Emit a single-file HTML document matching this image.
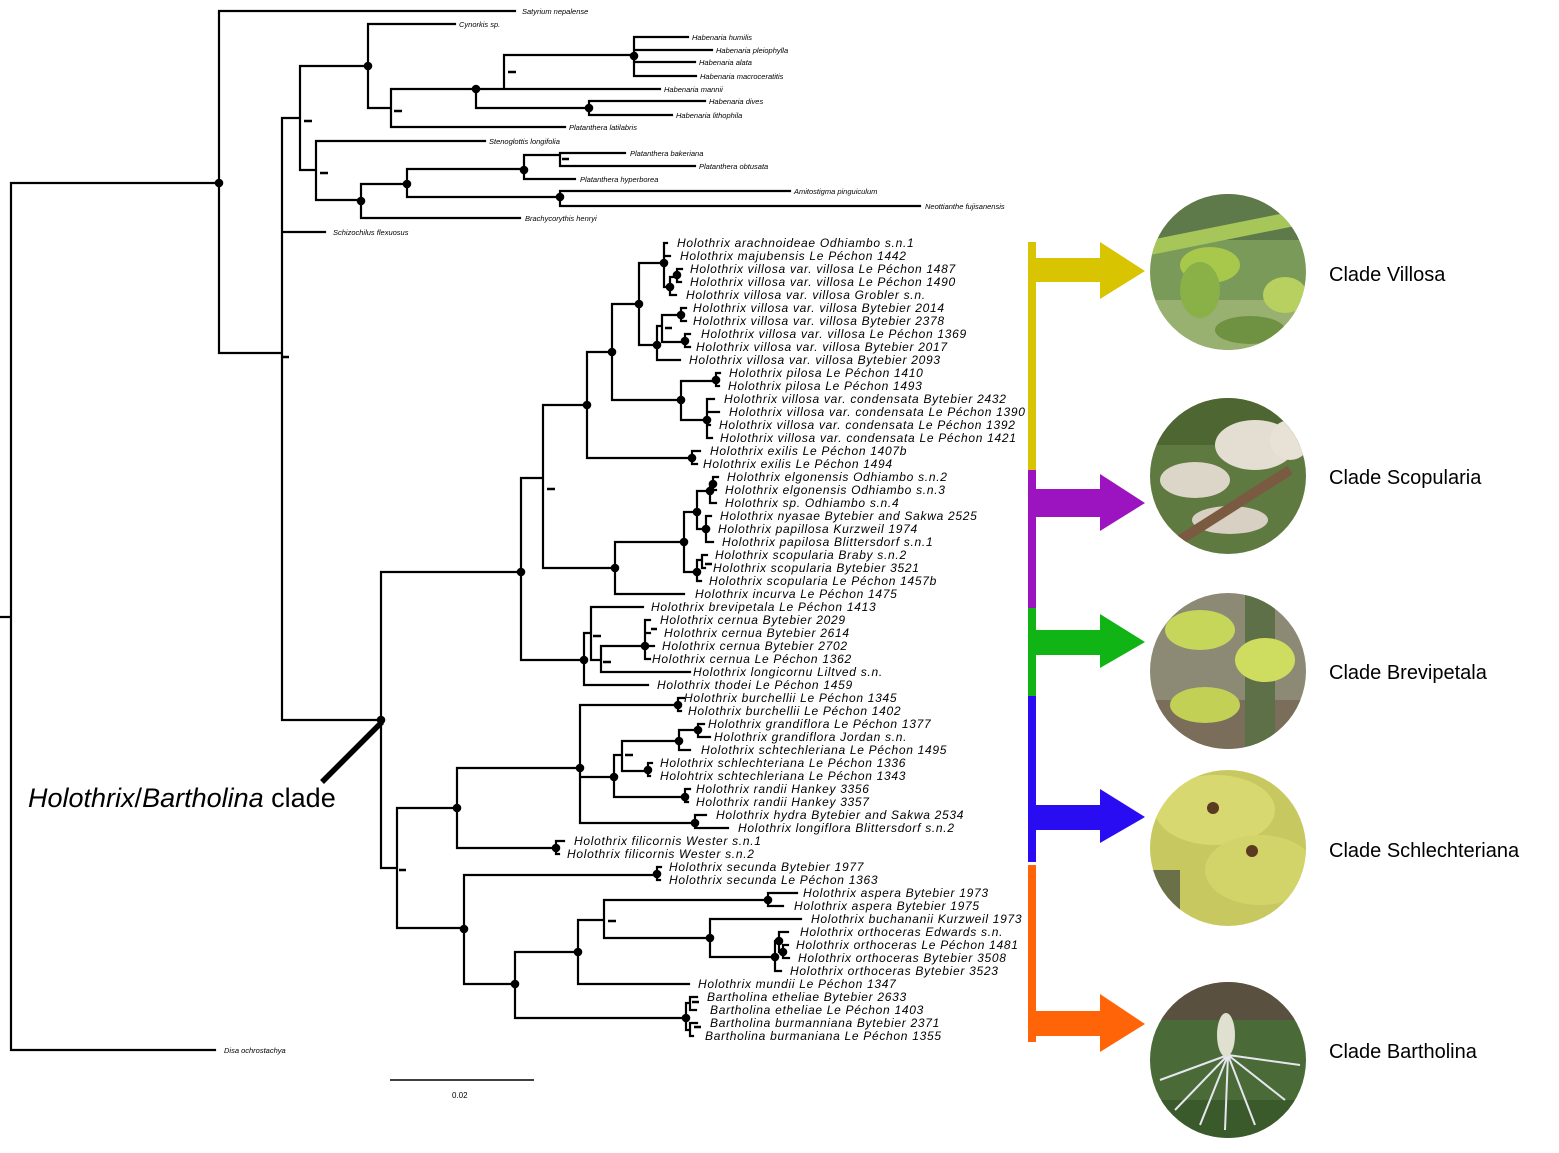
<!DOCTYPE html>
<html><head><meta charset="utf-8"><style>
html,body{margin:0;padding:0;background:#fff}
svg{display:block}
.s{font-family:"Liberation Sans",sans-serif;font-style:italic;font-size:7.5px;fill:#000}
.h{font-family:"Liberation Sans",sans-serif;font-style:italic;font-size:12px;letter-spacing:0.7px;fill:#000}
.c{font-family:"Liberation Sans",sans-serif;font-size:20px;fill:#000}
</style></head><body>
<svg width="1559" height="1153" viewBox="0 0 1559 1153" xmlns="http://www.w3.org/2000/svg">
<defs>
<clipPath id="c1"><circle cx="1228" cy="272" r="78"/></clipPath>
<clipPath id="c2"><circle cx="1228" cy="476" r="78"/></clipPath>
<clipPath id="c3"><circle cx="1228" cy="671" r="78"/></clipPath>
<clipPath id="c4"><circle cx="1228" cy="848" r="78"/></clipPath>
<clipPath id="c5"><circle cx="1228" cy="1060" r="78"/></clipPath>
</defs>
<g fill="none" stroke="#000" stroke-width="2.2" stroke-linecap="square">
<path d="M0 617H11M11 183V1050M11 183H219M11 1050H215M219 11V353M219 11H515M219 353H282M282 118V720M282 118H300M282 232H325M282 720H381M300 66V170M300 66H368M300 170H316
M368 24V108M368 24H455M368 108H391M391 89V127M391 89H660M391 127H565M476 89V108M476 108H589M504 55V89M504 55H634
M634 37V76M634 37H688M634 50H712M634 62H695M634 76H696M589 101V115M589 101H705M589 115H672
M316 141V200M316 141H485M316 200H361M361 184V218M361 184H407M361 218H520M407 169V197M407 169H524M407 197H560M524 155V179M524 155H560M524 179H575M560 153V166M560 153H625M560 166H695M560 191V206M560 191H790M560 206H920"/>
<path d="M381 572V868M381 572H521M381 868H397M521 478V660M521 478H543M521 660H584M543 405V568M543 405H587M543 568H615M587 352V458M587 352H612M587 458H692M692 451V464M692 451H700M692 464H697
M612 304V400M612 304H639M612 400H681M639 263V345M639 263H664M639 345H657
M664 243V287M664 243H667M664 256H670M664 287H670M670 277V295M670 277H677M670 295H676M677 269V282M677 269H682M677 282H681
M657 326V360M657 326H662M662 315V342M662 315H681M681 308V321M681 308H686M681 321H686M662 342H685M685 334V347M685 334H690M685 347H690M657 360H680
M681 381V420M681 381H716M681 420H707M716 373V386M716 373H720M716 386H719M707 399V438M707 399H714M707 412H719M707 425H710M707 438H712
M615 542V594M615 542H684M615 594H684M684 512V572M684 512H697M684 572H697M697 491V529M697 491H710M697 529H706M710 484V503M710 484H713M713 477V490M713 477H718M713 490H716M710 503H716M706 516V542M706 516H711M706 529H709M706 542H713
M697 560V581M697 560H702M702 555V568M702 555H707M702 568H705M697 581H701
M584 633V685M584 685H648M584 633H591M591 607V660M591 607H643M591 660H601M601 646V672M601 646H645M601 672H690M645 620V659M645 620H650M645 633H650M645 646H654M645 659H650
M397 808V928M397 808H457M397 928H464M457 768V848M457 768H580M457 848H556M556 841V854M556 841H564M556 854H559
M580 705V823M580 705H678M580 823H695M580 777H614M678 698V711M678 698H684M678 711H681M614 755V797M614 755H622M614 797H685M622 741V771M622 741H679M622 771H648
M679 730V750M679 730H698M679 750H690M698 724V737M698 724H704M698 737H710M648 763V776M648 763H652M648 776H650M685 789V802M685 789H690M685 802H688M695 815V828M695 815H706M695 828H728
M464 875V984M464 875H657M464 984H515M657 867V880M657 867H661M657 880H660M515 952V1018M515 952H578M515 1018H686M578 920V984M578 920H604M578 984H689
M604 900V938M604 900H768M604 938H710M768 893V906M768 893H797M768 906H783M710 919V957M710 919H801M710 957H775
M775 941V971M775 941H779M779 932V952M779 932H788M779 952H783M783 945V958M783 945H788M783 958H789M775 971H781
M686 1003V1030M686 1003H690M690 997V1010M690 997H697M690 1010H696M686 1030H690M690 1023V1036M690 1023H697M690 1036H693"/>
</g>
<g stroke="#000" stroke-width="2.6">
<path d="M304 121H312M320 173H328M394 111H402M508 72H516M562 159H569M399 870H406M547 489H555M665 328H672M705 564H712M593 636H601M603 662H611M651 629H657M625 755H633M608 921H616M692 1002H699M694 1027H701M281 357H289"/>
</g>
<path d="M322 782L382 722" stroke="#000" stroke-width="5.5"/>
<g fill="#000">
<circle cx="219" cy="183" r="4.3"/><circle cx="368" cy="66" r="4.3"/><circle cx="476" cy="89" r="4.3"/><circle cx="634" cy="56" r="4.3"/><circle cx="589" cy="108" r="4.3"/><circle cx="361" cy="201" r="4.3"/><circle cx="407" cy="184" r="4.3"/><circle cx="524" cy="170" r="4.3"/><circle cx="560" cy="197" r="4.3"/>
<circle cx="381" cy="720" r="4.3"/><circle cx="521" cy="572" r="4.3"/><circle cx="587" cy="405" r="4.3"/><circle cx="692" cy="458" r="4.3"/><circle cx="612" cy="352" r="4.3"/><circle cx="639" cy="304" r="4.3"/><circle cx="664" cy="263" r="4.3"/><circle cx="670" cy="287" r="4.3"/><circle cx="677" cy="275" r="4.3"/><circle cx="657" cy="345" r="4.3"/><circle cx="681" cy="315" r="4.3"/><circle cx="685" cy="341" r="4.3"/>
<circle cx="681" cy="400" r="4.3"/><circle cx="716" cy="380" r="4.3"/><circle cx="707" cy="420" r="4.3"/><circle cx="615" cy="568" r="4.3"/><circle cx="684" cy="542" r="4.3"/><circle cx="697" cy="512" r="4.3"/><circle cx="710" cy="491" r="4.3"/><circle cx="713" cy="484" r="4.3"/><circle cx="706" cy="529" r="4.3"/><circle cx="697" cy="572" r="4.3"/>
<circle cx="584" cy="660" r="4.3"/><circle cx="645" cy="646" r="4.3"/><circle cx="457" cy="808" r="4.3"/><circle cx="556" cy="848" r="4.3"/><circle cx="580" cy="768" r="4.3"/><circle cx="678" cy="705" r="4.3"/><circle cx="614" cy="777" r="4.3"/><circle cx="679" cy="741" r="4.3"/><circle cx="698" cy="730" r="4.3"/><circle cx="648" cy="770" r="4.3"/><circle cx="685" cy="797" r="4.3"/><circle cx="695" cy="823" r="4.3"/>
<circle cx="464" cy="929" r="4.3"/><circle cx="657" cy="874" r="4.3"/><circle cx="515" cy="984" r="4.3"/><circle cx="578" cy="952" r="4.3"/><circle cx="768" cy="900" r="4.3"/><circle cx="710" cy="938" r="4.3"/><circle cx="775" cy="957" r="4.3"/><circle cx="779" cy="941" r="4.3"/><circle cx="783" cy="952" r="4.3"/><circle cx="686" cy="1018" r="4.3"/>
</g>
<g class="s">
<text x="522" y="14">Satyrium nepalense</text><text x="459" y="27">Cynorkis sp.</text><text x="692" y="40">Habenaria humilis</text><text x="716" y="53">Habenaria pleiophylla</text><text x="699" y="65">Habenaria alata</text><text x="700" y="79">Habenaria macroceratitis</text><text x="664" y="92">Habenaria mannii</text><text x="709" y="104">Habenaria dives</text><text x="676" y="118">Habenaria lithophila</text><text x="569" y="130">Platanthera latilabris</text><text x="489" y="144">Stenoglottis longifolia</text><text x="630" y="156">Platanthera bakeriana</text><text x="699" y="169">Platanthera obtusata</text><text x="580" y="182">Platanthera hyperborea</text><text x="794" y="194">Amitostigma pinguiculum</text><text x="925" y="209">Neottianthe fujisanensis</text><text x="525" y="221">Brachycorythis henryi</text><text x="333" y="235">Schizochilus flexuosus</text><text x="224" y="1053">Disa ochrostachya</text>
</g>
<g class="h">
<text x="677" y="247">Holothrix arachnoideae Odhiambo s.n.1</text>
<text x="680" y="260">Holothrix majubensis Le Péchon 1442</text>
<text x="690" y="273">Holothrix villosa var. villosa Le Péchon 1487</text>
<text x="690" y="286">Holothrix villosa var. villosa Le Péchon 1490</text>
<text x="686" y="299">Holothrix villosa var. villosa Grobler s.n.</text>
<text x="693" y="312">Holothrix villosa var. villosa Bytebier 2014</text>
<text x="693" y="325">Holothrix villosa var. villosa Bytebier 2378</text>
<text x="701" y="338">Holothrix villosa var. villosa Le Péchon 1369</text>
<text x="696" y="351">Holothrix villosa var. villosa Bytebier 2017</text>
<text x="689" y="364">Holothrix villosa var. villosa Bytebier 2093</text>
<text x="729" y="377">Holothrix pilosa Le Péchon 1410</text>
<text x="728" y="390">Holothrix pilosa Le Péchon 1493</text>
<text x="724" y="403">Holothrix villosa var. condensata Bytebier 2432</text>
<text x="729" y="416">Holothrix villosa var. condensata Le Péchon 1390</text>
<text x="719" y="429">Holothrix villosa var. condensata Le Péchon 1392</text>
<text x="720" y="442">Holothrix villosa var. condensata Le Péchon 1421</text>
<text x="710" y="455">Holothrix exilis Le Péchon 1407b</text>
<text x="703" y="468">Holothrix exilis Le Péchon 1494</text>
<text x="727" y="481">Holothrix elgonensis Odhiambo s.n.2</text>
<text x="725" y="494">Holothrix elgonensis Odhiambo s.n.3</text>
<text x="725" y="507">Holothrix sp.  Odhiambo s.n.4</text>
<text x="720" y="520">Holothrix nyasae Bytebier and  Sakwa 2525</text>
<text x="718" y="533">Holothrix papillosa Kurzweil  1974</text>
<text x="722" y="546">Holothrix papilosa Blittersdorf s.n.1</text>
<text x="715" y="559">Holothrix scopularia Braby s.n.2</text>
<text x="713" y="572">Holothrix scopularia Bytebier 3521</text>
<text x="709" y="585">Holothrix scopularia Le Péchon 1457b</text>
<text x="695" y="598">Holothrix incurva Le Péchon 1475</text>
<text x="651" y="611">Holothrix brevipetala Le Péchon 1413</text>
<text x="660" y="624">Holothrix cernua Bytebier 2029</text>
<text x="664" y="637">Holothrix cernua Bytebier 2614</text>
<text x="662" y="650">Holothrix cernua Bytebier 2702</text>
<text x="652" y="663">Holothrix cernua Le Péchon 1362</text>
<text x="693" y="676">Holothrix longicornu Liltved s.n.</text>
<text x="657" y="689">Holothrix thodei Le Péchon 1459</text>
<text x="684" y="702">Holothrix burchellii Le Péchon 1345</text>
<text x="688" y="715">Holothrix burchellii Le Péchon 1402</text>
<text x="708" y="728">Holothrix grandiflora Le Péchon 1377</text>
<text x="714" y="741">Holothrix grandiflora Jordan  s.n.</text>
<text x="701" y="754">Holothrix schtechleriana Le Péchon 1495</text>
<text x="660" y="767">Holothrix schlechteriana Le Péchon 1336</text>
<text x="660" y="780">Holohtrix schtechleriana Le Péchon 1343</text>
<text x="696" y="793">Holothrix randii Hankey  3356</text>
<text x="696" y="806">Holothrix randii Hankey  3357</text>
<text x="716" y="819">Holothrix hydra Bytebier and  Sakwa  2534</text>
<text x="738" y="832">Holothrix longiflora  Blittersdorf  s.n.2</text>
<text x="574" y="845">Holothrix filicornis Wester s.n.1</text>
<text x="567" y="858">Holothrix filicornis Wester s.n.2</text>
<text x="669" y="871">Holothrix secunda Bytebier 1977</text>
<text x="669" y="884">Holothrix secunda Le Péchon 1363</text>
<text x="803" y="897">Holothrix aspera Bytebier 1973</text>
<text x="794" y="910">Holothrix aspera Bytebier 1975</text>
<text x="811" y="923">Holothrix buchananii Kurzweil 1973</text>
<text x="800" y="936">Holothrix orthoceras Edwards s.n.</text>
<text x="796" y="949">Holothrix orthoceras Le Péchon 1481</text>
<text x="798" y="962">Holothrix orthoceras Bytebier 3508</text>
<text x="790" y="975">Holothrix orthoceras Bytebier 3523</text>
<text x="698" y="988">Holothrix mundii  Le Péchon 1347</text>
<text x="707" y="1001">Bartholina etheliae Bytebier 2633</text>
<text x="710" y="1014">Bartholina etheliae Le Péchon 1403</text>
<text x="710" y="1027">Bartholina burmanniana Bytebier 2371</text>
<text x="705" y="1040">Bartholina burmaniana Le Péchon 1355</text>
</g>
<text x="28" y="807" font-family="Liberation Sans, sans-serif" font-size="27" fill="#000"><tspan font-style="italic">Holothrix</tspan>/<tspan font-style="italic">Bartholina</tspan> clade</text>
<path d="M390 1080H534" stroke="#000" stroke-width="1.5"/>
<text x="452" y="1098" font-family="Liberation Sans, sans-serif" font-size="8" fill="#000">0.02</text>
<rect x="1028" y="242" width="8" height="228" fill="#d8c400"/>
<rect x="1028" y="470" width="8" height="138" fill="#9c14c0"/>
<rect x="1028" y="608" width="8" height="88" fill="#10b414"/>
<rect x="1028" y="696" width="8" height="166" fill="#2a0cf2"/>
<rect x="1028" y="865" width="8" height="177" fill="#ff6408"/>
<path d="M1036 258H1100V242L1145 271L1100 299V282H1036Z" fill="#d8c400"/>
<path d="M1036 489H1100V474L1145 503L1100 531V517H1036Z" fill="#9c14c0"/>
<path d="M1036 630H1100V614L1145 642L1100 668V655H1036Z" fill="#10b414"/>
<path d="M1036 805H1100V789L1145 817L1100 843V830H1036Z" fill="#2a0cf2"/>
<path d="M1036 1011H1100V994L1145 1024L1100 1052V1036H1036Z" fill="#ff6408"/>
<g clip-path="url(#c1)">
<rect x="1140" y="190" width="180" height="170" fill="#7a9a5a"/>
<rect x="1140" y="190" width="180" height="50" fill="#5f7a4a"/>
<rect x="1140" y="300" width="180" height="60" fill="#98b070"/>
<path d="M1150 240L1300 210L1300 225L1150 255Z" fill="#a6c65a"/>
<ellipse cx="1210" cy="265" rx="30" ry="18" fill="#a8c84c"/>
<ellipse cx="1200" cy="290" rx="20" ry="28" fill="#8ab048"/>
<ellipse cx="1285" cy="295" rx="22" ry="18" fill="#b8d060"/>
<ellipse cx="1250" cy="330" rx="35" ry="14" fill="#6f9242"/>
</g>
<g clip-path="url(#c2)">
<rect x="1140" y="395" width="180" height="165" fill="#5f7a40"/>
<rect x="1140" y="395" width="180" height="50" fill="#4e6632"/>
<ellipse cx="1255" cy="445" rx="40" ry="25" fill="#e4ded2"/>
<ellipse cx="1195" cy="480" rx="35" ry="18" fill="#dcd6c8"/>
<ellipse cx="1230" cy="520" rx="38" ry="14" fill="#d8d0c2"/>
<ellipse cx="1290" cy="440" rx="20" ry="20" fill="#e8e2d6"/>
<path d="M1180 540L1290 470" stroke="#7a5a40" stroke-width="10"/>
</g>
<g clip-path="url(#c3)">
<rect x="1140" y="590" width="180" height="165" fill="#8c8a74"/>
<rect x="1140" y="700" width="180" height="60" fill="#7a6e5a"/>
<rect x="1245" y="590" width="30" height="165" fill="#5e7048"/>
<ellipse cx="1200" cy="630" rx="35" ry="20" fill="#c6d65a"/>
<ellipse cx="1265" cy="660" rx="30" ry="22" fill="#cedc60"/>
<ellipse cx="1205" cy="705" rx="35" ry="18" fill="#c2d056"/>
</g>
<g clip-path="url(#c4)">
<rect x="1140" y="765" width="180" height="170" fill="#c8c860"/>
<ellipse cx="1215" cy="810" rx="60" ry="35" fill="#d8d870"/>
<ellipse cx="1260" cy="870" rx="55" ry="35" fill="#d2d46a"/>
<rect x="1140" y="870" width="40" height="60" fill="#6a7048"/>
<circle cx="1213" cy="808" r="6" fill="#5a3a20"/>
<circle cx="1252" cy="851" r="6" fill="#5a3a20"/>
</g>
<g clip-path="url(#c5)">
<rect x="1140" y="980" width="180" height="165" fill="#4a6a38"/>
<rect x="1140" y="980" width="180" height="40" fill="#5a5040"/>
<rect x="1140" y="1100" width="180" height="45" fill="#3a5a2c"/>
<g stroke="#e6e6ee" stroke-width="2" fill="none">
<path d="M1228 1055L1175 1110M1228 1055L1200 1125M1228 1055L1225 1130M1228 1055L1255 1125M1228 1055L1285 1100M1228 1055L1300 1065M1228 1055L1160 1080"/>
</g>
<ellipse cx="1226" cy="1035" rx="9" ry="22" fill="#e0e0d0"/>
</g>
<text class="c" x="1329" y="281">Clade Villosa</text>
<text class="c" x="1329" y="484">Clade Scopularia</text>
<text class="c" x="1329" y="679">Clade Brevipetala</text>
<text class="c" x="1329" y="857">Clade Schlechteriana</text>
<text class="c" x="1329" y="1058">Clade Bartholina</text>
</svg>
</body></html>
